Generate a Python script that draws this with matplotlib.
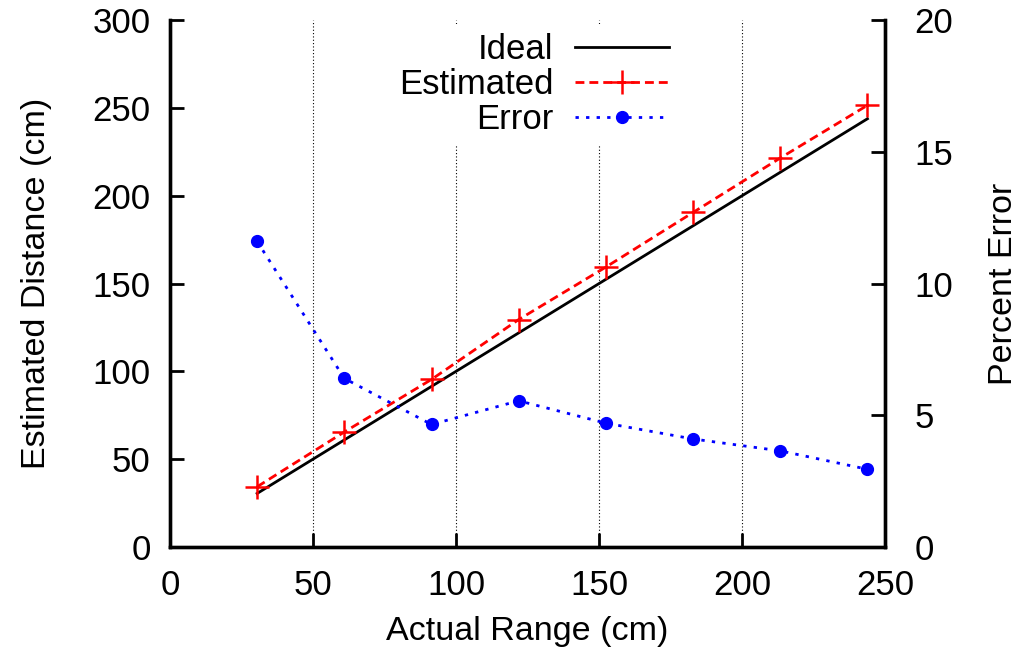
import matplotlib.pyplot as plt

plt.rcParams["font.family"] = ["Liberation Sans", "DejaVu Sans"]

actual_cm = [30.48, 60.96, 91.44, 121.92, 152.4, 182.88, 213.36, 243.84]
estimated_cm = [34.3, 65.5, 95.4, 129.5, 159.4, 190.5, 221.5, 251.5]
percent_error = [11.6, 6.4, 4.65, 5.55, 4.7, 4.1, 3.65, 2.95]

fig = plt.figure(figsize=(10.22, 6.5), dpi=100)
ax = fig.add_axes([0.1663, 0.1585, 0.6997, 0.8105])
ax2 = ax.twinx()

ideal, = ax.plot(actual_cm, actual_cm, color="black", linewidth=2.0, label="Ideal", zorder=3)
est, = ax.plot(actual_cm, estimated_cm, color="red", linestyle=(0, (3.2, 1.8)), linewidth=2.0,
               marker="+", markersize=17, markeredgewidth=1.8, label="Estimated", zorder=4)
err, = ax2.plot(actual_cm, percent_error, color="blue", linestyle=(0, (1.2, 2.6)), linewidth=2.0,
                marker="o", markersize=8.5, label="Error", zorder=4)

ax.set_xlim(0, 250)
ax.set_ylim(0, 300)
ax2.set_ylim(0, 20)
ax.set_xticks(range(0, 251, 50))
ax.set_yticks(range(0, 301, 50))
ax2.set_yticks(range(0, 21, 5))

ax.xaxis.grid(True, linestyle=(0, (1, 2)), color="black", linewidth=0.8)
ax.set_axisbelow(True)

for a in (ax, ax2):
    a.spines["top"].set_visible(False)
    for s in ("left", "right", "bottom"):
        a.spines[s].set_linewidth(2.4)
    a.tick_params(direction="in", length=10, width=2, labelsize=25)
ax.tick_params(axis="y", right=False, pad=14)
ax.tick_params(axis="x", top=False, pad=16)
ax2.tick_params(axis="y", pad=21)

ax.set_xlabel("Actual Range (cm)", fontsize=24.5, labelpad=10)
ax.set_ylabel("Estimated Distance (cm)", fontsize=24.5, labelpad=29)
ax2.set_ylabel("Percent Error", fontsize=24.5, labelpad=25)

leg = ax2.legend(handles=[ideal, est, err], loc="upper center", bbox_to_anchor=(0.509, 1.025),
                 markerfirst=False, fontsize=25, frameon=True, framealpha=1, edgecolor="none",
                 handlelength=2.7, handletextpad=0.63, labelspacing=0.06, borderpad=0.25)
leg._legend_box.align = "right"

fig.savefig("out.png", dpi=100)
